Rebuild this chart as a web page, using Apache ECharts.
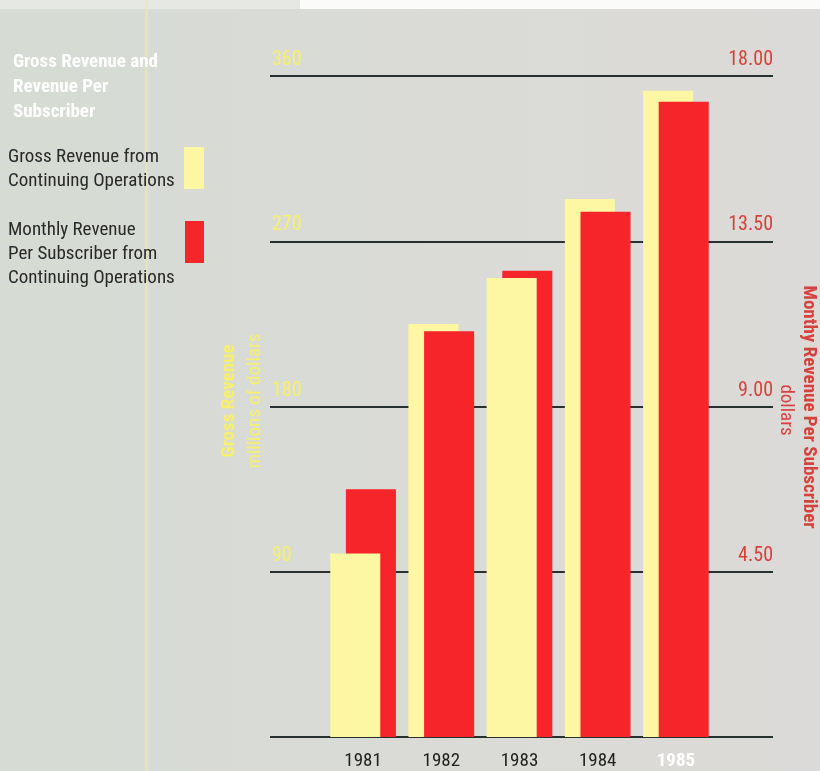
<!DOCTYPE html>
<html>
<head>
<meta charset="utf-8">
<script src="https://cdn.jsdelivr.net/npm/echarts@6/dist/echarts.min.js"></script>
<style>
  html, body { margin: 0; padding: 0; background: #d9dbd6; }
  #chart { width: 820px; height: 771px; }
</style>
</head>
<body>
<div id="chart"></div>
<script>
// Annual figures, 1981-1985
const years = ['1981', '1982', '1983', '1984', '1985'];
// Gross revenue from continuing operations, millions of dollars
const grossRevenue = [100, 225, 250, 293, 352];
// Monthly revenue per subscriber from continuing operations, dollars
const revenuePerSubscriber = [6.75, 11.05, 12.7, 14.3, 17.3];
// Axis scales
const grossTicks = [0, 90, 180, 270, 360];
const perSubTicks = [0, 4.5, 9, 13.5, 18];

const GROSS_MAX = grossTicks[grossTicks.length - 1];
const PER_MAX = perSubTicks[perSubTicks.length - 1];

const NARROW = "'Roboto Condensed', 'Liberation Sans Narrow', 'Liberation Sans', sans-serif";
const YELLOW = '#fdf6a2';
const RED = '#f5252a';
const YELLOW_TEXT = '#f8ef6a';
const RED_TEXT = '#d6423b';

// Of each pair, the shorter bar is drawn in front
function grossInFront(i) {
  return grossRevenue[i] / GROSS_MAX < revenuePerSubscriber[i] / PER_MAX;
}

function pairBar(isGross) {
  return function (params, api) {
    const i = api.value(0);
    const top = api.coord([i, api.value(1)]);
    const base = api.coord([i, 0]);
    const band = api.size([1, 0])[0];
    const w = band * 0.64;
    const half = band * 0.42;
    const left = isGross ? top[0] - half : top[0] + half - w;
    const front = isGross ? grossInFront(i) : !grossInFront(i);
    return {
      type: 'rect',
      z2: front ? 20 : 10,
      shape: { x: left, y: top[1], width: w, height: base[1] - top[1] },
      style: { fill: isGross ? YELLOW : RED }
    };
  };
}

const chart = echarts.init(document.getElementById('chart'), null, { renderer: 'canvas' });

const option = {
  backgroundColor: {
    type: 'linear', x: 0, y: 0, x2: 1, y2: 0,
    colorStops: [
      { offset: 0, color: '#d6dbd4' },
      { offset: 0.5, color: '#dadbd7' },
      { offset: 1, color: '#dcdad8' }
    ]
  },
  animation: false,
  title: {
    text: 'Gross Revenue and\nRevenue Per\nSubscriber',
    left: 8,
    top: 45,
    textStyle: {
      color: '#ffffff',
      fontFamily: NARROW,
      fontWeight: 'bold',
      fontSize: 19,
      lineHeight: 25
    }
  },
  grid: [
    { left: 270, right: 47, top: 76, bottom: 34 },
    { left: 324, right: 105, top: 76, bottom: 34 }
  ],
  xAxis: [
    { type: 'value', gridIndex: 0, min: 0, max: 1, show: false },
    {
      type: 'category',
      gridIndex: 1,
      data: years,
      boundaryGap: true,
      axisLine: { show: false },
      axisTick: { show: false },
      axisLabel: {
        interval: 0,
        margin: 15,
        color: '#222222',
        fontFamily: NARROW,
        fontSize: 19,
        formatter: function (v) {
          return v === years[years.length - 1] ? '{last|' + v + '}' : v;
        },
        rich: {
          last: { color: '#ffffff', fontWeight: 'bold', fontFamily: NARROW, fontSize: 19 }
        }
      }
    }
  ],
  yAxis: [
    {
      type: 'value',
      gridIndex: 0,
      position: 'left',
      min: grossTicks[0],
      max: GROSS_MAX,
      interval: grossTicks[1] - grossTicks[0],
      axisLine: { show: false },
      axisTick: { show: false },
      splitLine: { show: true, lineStyle: { color: '#26302e', width: 2 } },
      axisLabel: {
        inside: true,
        margin: 2,
        align: 'left',
        verticalAlign: 'bottom',
        padding: [0, 0, 6, 0],
        color: YELLOW_TEXT,
        fontFamily: NARROW,
        fontSize: 20,
        formatter: function (v) { return v === 0 ? '' : String(v); }
      }
    },
    {
      type: 'value',
      gridIndex: 0,
      position: 'right',
      min: perSubTicks[0],
      max: PER_MAX,
      interval: perSubTicks[1] - perSubTicks[0],
      axisLine: { show: false },
      axisTick: { show: false },
      splitLine: { show: false },
      axisLabel: {
        inside: true,
        margin: 0,
        align: 'right',
        verticalAlign: 'bottom',
        padding: [0, 0, 6, 0],
        color: RED_TEXT,
        fontFamily: NARROW,
        fontSize: 20,
        formatter: function (v) { return v === 0 ? '' : v.toFixed(2); }
      }
    },
    { type: 'value', gridIndex: 1, min: grossTicks[0], max: GROSS_MAX, show: false, splitLine: { show: false } },
    { type: 'value', gridIndex: 1, min: perSubTicks[0], max: PER_MAX, show: false, splitLine: { show: false } }
  ],
  series: [
    {
      name: 'Gross Revenue from Continuing Operations',
      type: 'custom',
      xAxisIndex: 1,
      yAxisIndex: 2,
      z: 3,
      encode: { x: 0, y: 1 },
      data: grossRevenue.map(function (v, i) { return [i, v]; }),
      renderItem: pairBar(true)
    },
    {
      name: 'Monthly Revenue Per Subscriber from Continuing Operations',
      type: 'custom',
      xAxisIndex: 1,
      yAxisIndex: 3,
      z: 3,
      encode: { x: 0, y: 1 },
      data: revenuePerSubscriber.map(function (v, i) { return [i, v]; }),
      renderItem: pairBar(false)
    }
  ],
  graphic: [
    // paper edge and fold
    { type: 'rect', z: -1, shape: { x: 300, y: 0, width: 520, height: 9 }, style: { fill: '#fbfbf9' } },
    { type: 'rect', z: -1, shape: { x: 0, y: 0, width: 300, height: 9 }, style: { fill: '#e6e9e3' } },
    { type: 'rect', z: -1, shape: { x: 145, y: 0, width: 3, height: 771 }, style: { fill: 'rgba(238,230,175,0.6)' } },
    // legend
    {
      type: 'text', x: 8, y: 145,
      style: {
        text: 'Gross Revenue from\nContinuing Operations',
        fill: '#2a2a2a', font: '19px ' + NARROW, lineHeight: 24
      }
    },
    { type: 'rect', shape: { x: 184, y: 147, width: 20, height: 42 }, style: { fill: YELLOW } },
    {
      type: 'text', x: 8, y: 218,
      style: {
        text: 'Monthly Revenue\nPer Subscriber from\nContinuing Operations',
        fill: '#2a2a2a', font: '19px ' + NARROW, lineHeight: 24
      }
    },
    { type: 'rect', shape: { x: 185, y: 221, width: 19, height: 42 }, style: { fill: RED } },
    // left axis title
    {
      type: 'text', x: 229, y: 401, rotation: Math.PI / 2,
      style: { text: 'Gross Revenue', fill: YELLOW_TEXT, font: 'bold 19px ' + NARROW, align: 'center', verticalAlign: 'middle' }
    },
    {
      type: 'text', x: 255, y: 401, rotation: Math.PI / 2,
      style: { text: 'millions of dollars', fill: YELLOW_TEXT, font: '19px ' + NARROW, align: 'center', verticalAlign: 'middle' }
    },
    // right axis title
    {
      type: 'text', x: 809, y: 407, rotation: -Math.PI / 2,
      style: { text: 'Monthy Revenue Per Subscriber', fill: RED_TEXT, font: 'bold 19px ' + NARROW, align: 'center', verticalAlign: 'middle' }
    },
    {
      type: 'text', x: 786, y: 410, rotation: -Math.PI / 2,
      style: { text: 'dollars', fill: RED_TEXT, font: '19px ' + NARROW, align: 'center', verticalAlign: 'middle' }
    }
  ]
};

chart.setOption(option);
</script>
</body>
</html>
